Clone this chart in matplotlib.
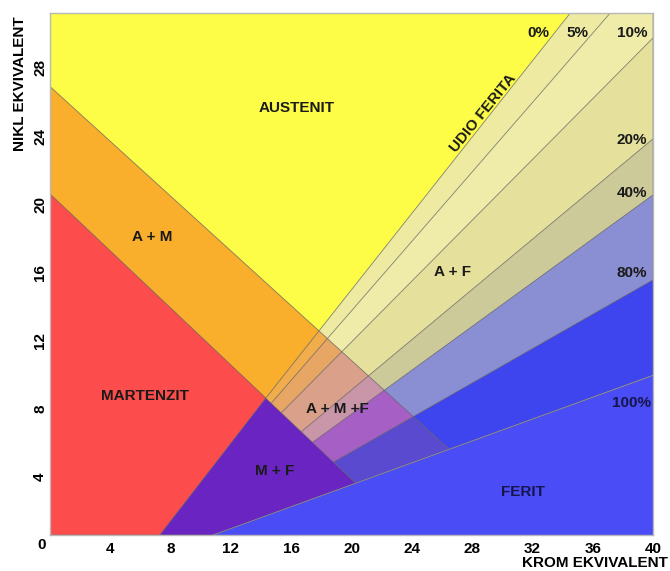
import matplotlib
matplotlib.use("Agg")
import matplotlib.pyplot as plt
from matplotlib.patches import Polygon

plt.rcParams['font.family'] = ['Liberation Sans', 'DejaVu Sans']
plt.rcParams['font.weight'] = 'bold'

# boundary lines, two points each (Cr ekv, Ni ekv), ordered left to right
aust_line = [(0.0, 26.9), (26.5, 5.6)]      # austenit / A+M
mart_line = [(0.0, 20.6), (20.2, 3.7)]      # martenzit / A+M (and M+F top)
mf_line = [(7.3, 0.6), (14.33, 8.63)]       # martenzit / M+F

# ferrite content lines
ferrite_pct = ['0%', '5%', '10%', '20%', '40%', '80%', '100%']
ferrite_lo = [(14.33, 8.63), (14.69, 8.33), (15.36, 7.77), (16.68, 6.65),
              (17.45, 6.04), (18.83, 4.87), (10.8, 0.6)]
ferrite_hi = [(34.5, 31.2), (37.15, 31.2), (40.0, 29.75), (40.0, 23.83),
              (40.0, 20.54), (40.0, 15.55), (40.0, 9.98)]

# stripe colours between consecutive ferrite lines
af_colors = ['#eeeaa2', '#efeba8', '#e5e19c', '#cdca9a', '#8a8ed2', '#3e44ee']
amf_colors = ['#f1ad4c', '#e8a664', '#daa08a', '#c896a8', '#a65fc4', '#5a4ad0']

aust_color = '#fdfd48'
am_color = '#f9ae2c'
mart_color = '#fd4c4c'
mfe_color = '#6a24c2'
fer_color = '#4a4cf6'

xlim = (0, 40)
ylim = (0.59, 31.22)


def clip(poly, line, above):
    (x1, y1), (x2, y2) = line
    s = 1 if above else -1
    def side(p):
        return s * ((x2 - x1) * (p[1] - y1) - (y2 - y1) * (p[0] - x1))
    out = []
    n = len(poly)
    for i in range(n):
        p, q = poly[i], poly[(i + 1) % n]
        sp, sq = side(p), side(q)
        if sp >= 0:
            out.append(p)
        if sp * sq < 0:
            t = sp / (sp - sq)
            out.append((p[0] + t * (q[0] - p[0]), p[1] + t * (q[1] - p[1])))
    return out


def region(conds):
    poly = [(xlim[0], ylim[0]), (xlim[1], ylim[0]), (xlim[1], ylim[1]), (xlim[0], ylim[1])]
    for line, above in conds:
        poly = clip(poly, line, above)
        if not poly:
            break
    return poly


fig = plt.figure(figsize=(6.7, 5.71), dpi=100)
ax = fig.add_axes([50 / 670, 36 / 571, 603 / 670, 522 / 571])

flines = [[lo, hi] for lo, hi in zip(ferrite_lo, ferrite_hi)]
fer_line = flines[-1]

regions = []
regions.append((region([(aust_line, True), (flines[0], True)]), aust_color))
regions.append((region([(aust_line, False), (mart_line, True), (flines[0], True)]), am_color))
regions.append((region([(mart_line, False), (mf_line, True)]), mart_color))
regions.append((region([(mart_line, False), (mf_line, False), (fer_line, True)]), mfe_color))
regions.append((region([(fer_line, False)]), fer_color))
for i in range(len(flines) - 1):
    base = [(flines[i], False), (flines[i + 1], True), (mart_line, True)]
    regions.append((region(base + [(aust_line, True)]), af_colors[i]))
    regions.append((region(base + [(aust_line, False)]), amf_colors[i]))

edge = (0.35, 0.35, 0.35, 0.55)
for poly, col in regions:
    if len(poly) > 2:
        ax.add_patch(Polygon(poly, closed=True, facecolor=col, edgecolor=edge, lw=0.6))

ax.set_xlim(*xlim)
ax.set_ylim(*ylim)
ax.set_xticks(range(4, 41, 4))
ax.set_yticks(range(4, 29, 4))
ax.tick_params(axis='x', length=0, pad=5, labelsize=11)
ax.tick_params(axis='y', length=0, pad=2, labelsize=11)
plt.setp(ax.get_yticklabels(), rotation=90, va='center')
for s in ax.spines.values():
    s.set_color('#b8b8b8')
    s.set_linewidth(1)

ax.annotate('0', xy=(0, ylim[0]), xytext=(-3, -2), textcoords='offset points',
            ha='right', va='top', fontsize=11)

dark = '#1a1a1a'
navy = '#15154a'
kw = dict(fontsize=11, ha='center', va='center', fontweight='bold')
ax.text(16.38, 25.65, 'AUSTENIT', color=dark, **kw)
ax.text(6.77, 18.08, 'A + M', color=dark, **kw)
ax.text(6.30, 8.74, 'MARTENZIT', color=dark, **kw)
ax.text(14.93, 4.34, 'M + F', color=dark, **kw)
ax.text(19.04, 7.98, 'A + M +F', color=dark, **kw)
ax.text(26.67, 16.02, 'A + F', color=dark, **kw)
ax.text(28.72, 25.35, 'UDIO FERITA', color=dark, rotation=51, **kw)
ax.text(31.38, 3.11, 'FERIT', color=navy, **kw)

pct_pos = [(32.37, 30.05), (35.02, 30.05), (38.6, 30.05), (38.6, 23.77),
           (38.6, 20.66), (38.6, 15.96), (38.6, 8.33)]
for lab, (px, py) in zip(ferrite_pct, pct_pos):
    ax.text(px, py, lab, color=navy if lab == '100%' else dark, **kw)

fig.text(20 / 670, 1 - 84 / 571, 'NIKL EKVIVALENT', rotation=90,
         ha='center', va='center', fontsize=11, fontweight='bold')
fig.text(668 / 670, 1 - 563 / 571, 'KROM EKVIVALENT',
         ha='right', va='center', fontsize=11, fontweight='bold')

fig.savefig('out.png', dpi=100)
